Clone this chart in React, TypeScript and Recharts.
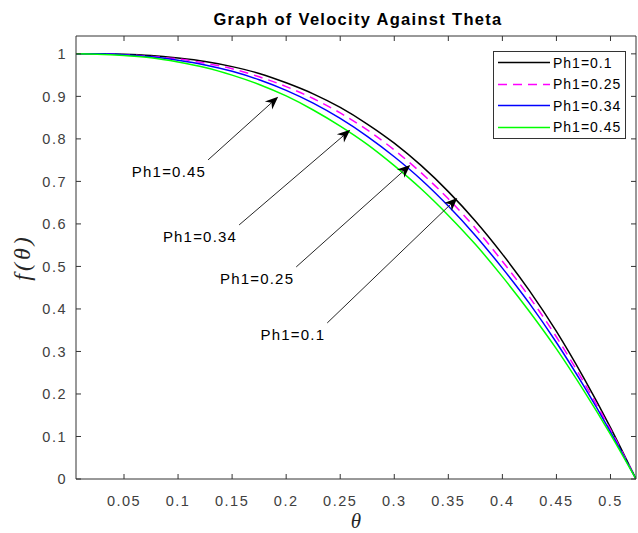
import { LineChart, Line, XAxis, YAxis, Legend, ReferenceLine } from 'recharts'

// theta values and f(theta) for each Ph1
const theta = [0.0056, 0.025, 0.05, 0.075, 0.1, 0.125, 0.15, 0.175, 0.2, 0.225, 0.25, 0.275, 0.3, 0.325, 0.35, 0.375, 0.4, 0.425, 0.45, 0.475, 0.5, 0.5236]
const ph01 = [1, 1, 0.999, 0.996, 0.99, 0.982, 0.97, 0.954, 0.932, 0.906, 0.874, 0.835, 0.79, 0.737, 0.676, 0.607, 0.529, 0.443, 0.347, 0.239, 0.121, 0]
const ph025 = [1, 1, 0.998, 0.994, 0.988, 0.978, 0.965, 0.946, 0.923, 0.895, 0.861, 0.821, 0.774, 0.72, 0.659, 0.59, 0.512, 0.428, 0.334, 0.229, 0.116, 0]
const ph034 = [1, 1, 0.998, 0.993, 0.985, 0.974, 0.959, 0.939, 0.914, 0.884, 0.848, 0.806, 0.758, 0.704, 0.642, 0.573, 0.496, 0.413, 0.321, 0.22, 0.111, 0]
const ph045 = [1, 0.999, 0.996, 0.991, 0.981, 0.968, 0.95, 0.928, 0.901, 0.868, 0.83, 0.787, 0.737, 0.682, 0.62, 0.552, 0.476, 0.394, 0.306, 0.209, 0.105, 0]

const seriesKeys = ['p1', 'p2', 'p3', 'p4']
const seriesNames = ['Ph1=0.1', 'Ph1=0.25', 'Ph1=0.34', 'Ph1=0.45']
const seriesColors = ['#000000', '#ff00ff', '#0000ff', '#00ff00']
const seriesDash = ['', '9 6', '', '']

const xTicks = [0.05, 0.1, 0.15, 0.2, 0.25, 0.3, 0.35, 0.4, 0.45, 0.5]
const yTicks = [0, 0.1, 0.2, 0.3, 0.4, 0.5, 0.6, 0.7, 0.8, 0.9, 1]

// arrow annotations (data coords)
const annLabels = ['Ph1=0.45', 'Ph1=0.34', 'Ph1=0.25', 'Ph1=0.1']
const annTailX = [0.1278, 0.1565, 0.2093, 0.238]
const annTailY = [0.7506, 0.5976, 0.4988, 0.3671]
const annTipX = [0.1926, 0.2593, 0.3148, 0.3583]
const annTipY = [0.899, 0.8212, 0.7388, 0.6612]

const data = theta.map((t, i) => ({ t, p1: ph01[i], p2: ph025[i], p3: ph034[i], p4: ph045[i] }))

const sans = '"Liberation Sans", Arial, Helvetica, sans-serif'
const serif = '"Liberation Serif", "Times New Roman", serif'
const axisColor = '#333333'
const fmt = (v: number) => String(+v.toFixed(2))

const arrowShape = (label: string) => (props: any) => {
  const { x1, y1, x2, y2 } = props
  const dx = x2 - x1
  const dy = y2 - y1
  const len = Math.hypot(dx, dy) || 1
  const ux = dx / len
  const uy = dy / len
  const nx = -uy
  const ny = ux
  const L = 13
  const W = 5.5
  const N = 9
  const pts = [
    [x2, y2],
    [x2 - L * ux + W * nx, y2 - L * uy + W * ny],
    [x2 - N * ux, y2 - N * uy],
    [x2 - L * ux - W * nx, y2 - L * uy - W * ny],
  ]
  return (
    <g>
      <line x1={x1} y1={y1} x2={x2 - N * ux} y2={y2 - N * uy} stroke="#262626" strokeWidth={1} />
      <polygon points={pts.map((p) => p.join(',')).join(' ')} fill="#000" />
      <text x={x1 - 2} y={y1 + 12} textAnchor="end" dominantBaseline="central" fontFamily={sans} fontSize={15} letterSpacing={1.2} fill="#000">
        {label}
      </text>
    </g>
  )
}

const renderLegend = () => (
  <div style={{ width: 133, height: 88, border: `1px solid ${axisColor}`, background: '#fff', boxSizing: 'border-box' }}>
    {seriesNames.map((n, i) => (
      <div key={n} style={{ height: 21.5, display: 'flex', alignItems: 'center' }}>
        <svg width={59} height={21} style={{ display: 'block' }}>
          <line x1={4} x2={56} y1={10.5} y2={10.5} stroke={seriesColors[i]} strokeWidth={1.5} strokeDasharray={seriesDash[i] || undefined} />
        </svg>
        <span style={{ fontFamily: sans, fontSize: 14, letterSpacing: 1, color: '#000' }}>{n}</span>
      </div>
    ))}
  </div>
)

export default function App() {
  return (
    <div style={{ position: 'absolute', left: 0, top: 0, width: 638, height: 533, background: '#fff' }}>
      <div
        style={{
          position: 'absolute',
          left: 158,
          width: 400,
          top: 9,
          textAlign: 'center',
          fontFamily: sans,
          fontWeight: 'bold',
          fontSize: 16.5,
          letterSpacing: 1.3,
          lineHeight: '20px',
          color: '#000',
        }}
      >
        Graph of Velocity Against Theta
      </div>
      <LineChart width={638} height={533} data={data} margin={{ top: 35, right: 1, bottom: 0, left: 0 }}>
        <XAxis
          dataKey="t"
          type="number"
          domain={[0.0056, 0.5236]}
          allowDataOverflow
          ticks={xTicks}
          tickFormatter={fmt}
          height={54}
          stroke={axisColor}
          tickSize={-5}
          tickMargin={22}
          tick={{ fill: '#404040', fontSize: 14.5, fontFamily: sans, letterSpacing: 1.5 }}
          label={(p: any) => (
            <text x={p.viewBox.x + p.viewBox.width / 2} y={p.viewBox.y + 42} textAnchor="middle" dominantBaseline="central" fontFamily={serif} fontStyle="italic" fontSize={21} fill="#262626">
              θ
            </text>
          )}
        />
        <XAxis
          xAxisId="top"
          orientation="top"
          dataKey="t"
          type="number"
          domain={[0.0056, 0.5236]}
          allowDataOverflow
          ticks={xTicks}
          tickFormatter={() => ''}
          height={1}
          stroke={axisColor}
          tickSize={-5}
        />
        <YAxis
          type="number"
          domain={[0, 1.042]}
          allowDataOverflow
          ticks={yTicks}
          tickFormatter={fmt}
          width={76}
          stroke={axisColor}
          tickSize={-5}
          tickMargin={14}
          tick={{ fill: '#404040', fontSize: 14.5, fontFamily: sans, letterSpacing: 1.5 }}
          label={(p: any) => {
            const cx = 22
            const cy = p.viewBox.y + p.viewBox.height / 2
            return (
              <text x={cx} y={cy} transform={`rotate(-90 ${cx} ${cy})`} textAnchor="middle" dominantBaseline="central" fontFamily={serif} fontStyle="italic" fontSize={24} letterSpacing={3} fill="#262626">
                f(θ)
              </text>
            )
          }}
        />
        <YAxis
          yAxisId="right"
          orientation="right"
          type="number"
          domain={[0, 1.042]}
          allowDataOverflow
          ticks={yTicks}
          tickFormatter={() => ''}
          width={1}
          stroke={axisColor}
          tickSize={-5}
        />
        {/* invisible series so the top/right frame axes get drawn */}
        <Line
          xAxisId="top"
          yAxisId="right"
          dataKey="p1"
          stroke="none"
          dot={false}
          activeDot={false}
          legendType="none"
          isAnimationActive={false}
        />
        {seriesKeys.map((k, i) => (
          <Line
            key={k}
            dataKey={k}
            name={seriesNames[i]}
            type="monotone"
            stroke={seriesColors[i]}
            strokeWidth={1.5}
            strokeDasharray={seriesDash[i] || undefined}
            dot={false}
            activeDot={false}
            isAnimationActive={false}
          />
        ))}
        {annLabels.map((lab, i) => (
          <ReferenceLine
            key={lab}
            segment={[
              { x: annTailX[i], y: annTailY[i] },
              { x: annTipX[i], y: annTipY[i] },
            ]}
            ifOverflow="visible"
            shape={arrowShape(lab)}
          />
        ))}
        <Legend
          layout="vertical"
          align="center"
          verticalAlign="middle"
          content={renderLegend}
          wrapperStyle={{ left: 493, top: 51, width: 133, height: 88 }}
        />
      </LineChart>
    </div>
  )
}
